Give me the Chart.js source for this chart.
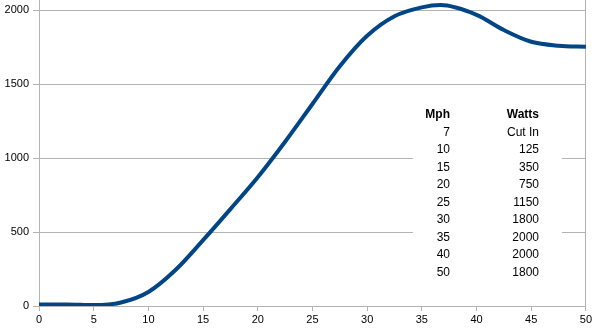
<!DOCTYPE html>
<html>
<head>
<meta charset="utf-8">
<script src="https://cdn.jsdelivr.net/npm/chart.js@4"></script>
<style>
  html, body { margin: 0; padding: 0; background: #fff; }
  #wrap { width: 594px; height: 328px; }
</style>
</head>
<body>
<div id="wrap"><canvas id="powerChart"></canvas></div>
<script>
// wind speed (mph) vs output (watts)
const speeds = [0, 2.5, 5, 7.5, 10, 12.5, 15, 17.5, 20, 22.5, 25, 27.5, 30, 32.5, 35, 36.7, 40, 42.5, 45, 47.5, 50];
const watts  = [10, 10, 6, 24, 95, 245, 445, 655, 870, 1110, 1365, 1620, 1826, 1958, 2018, 2034, 1968, 1865, 1786, 1759, 1752];

const yTicks = [0, 500, 1000, 1500, 2000];

// the little table on the right
const tableMph   = ['7', '10', '15', '20', '25', '30', '35', '40', '50'];
const tableWatts = ['Cut In', '125', '350', '750', '1150', '1800', '2000', '2000', '1800'];

const gridGray = '#b3b3b3';

// white box with the Mph / Watts table
const tablePlugin = {
  id: 'speedTable',
  afterDraw(chart) {
    const ctx = chart.ctx;
    ctx.save();
    ctx.fillStyle = '#fff';
    ctx.fillRect(413, 104, 149, 178);
    ctx.textAlign = 'right';
    ctx.textBaseline = 'middle';
    ctx.fillStyle = '#000';
    ctx.font = 'bold 12px "Liberation Sans", Arial, sans-serif';
    ctx.fillText('Mph', 450, 115);
    ctx.fillText('Watts', 539, 115);
    ctx.font = '12px "Liberation Sans", Arial, sans-serif';
    for (let i = 0; i < tableMph.length; i++) {
      const y = 132.5 + i * 17.5;
      ctx.fillText(tableMph[i], 450, y);
      ctx.fillText(tableWatts[i], 539, y);
    }
    ctx.restore();
  }
};

document.addEventListener('DOMContentLoaded', function () {
  const ctx = document.getElementById('powerChart').getContext('2d');
  new Chart(ctx, {
    type: 'line',
    data: {
      datasets: [{
        data: speeds.map((s, i) => ({ x: s, y: watts[i] })),
        borderColor: '#004586',
        borderWidth: 4,
        pointRadius: 0,
        cubicInterpolationMode: 'monotone',
        fill: false
      }]
    },
    options: {
      responsive: true,
      maintainAspectRatio: false,
      animation: false,
      layout: { padding: { top: 0, right: 7, left: 0, bottom: 0 } },
      plugins: { legend: { display: false }, tooltip: { enabled: false } },
      scales: {
        x: {
          type: 'linear',
          min: 0,
          max: 50,
          ticks: { stepSize: 5, color: '#000', padding: 2, font: { family: '"Liberation Sans", Arial', size: 11 } },
          grid: {
            color: c => (c.tick && c.tick.value === 50) ? gridGray : 'transparent',
            tickColor: gridGray,
            tickLength: 5
          },
          border: { color: gridGray },
          afterFit: s => { s.height = 22; }
        },
        y: {
          min: 0,
          max: 2068,
          ticks: {
            autoSkip: false,
            color: '#000',
            padding: 4,
            font: { family: '"Liberation Sans", Arial', size: 11 },
            callback: v => String(v)
          },
          afterBuildTicks: s => { s.ticks = yTicks.map(v => ({ value: v })); },
          grid: { color: gridGray, tickColor: gridGray, tickLength: 6 },
          border: { color: gridGray },
          afterFit: s => { s.width = 39; s.paddingTop = 0; }
        }
      }
    },
    plugins: [tablePlugin]
  });
});
</script>
</body>
</html>
